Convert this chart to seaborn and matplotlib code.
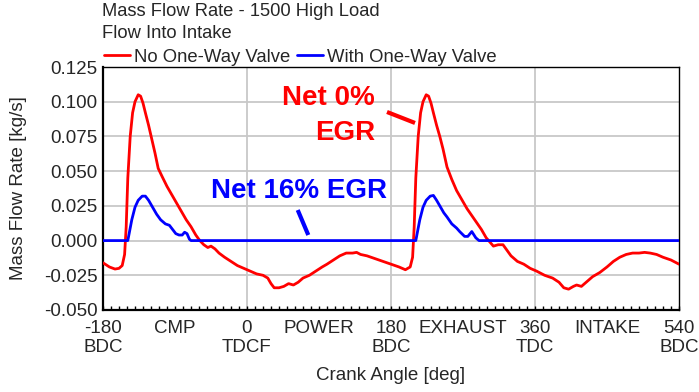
import matplotlib
matplotlib.use("Agg")
import matplotlib.pyplot as plt
from matplotlib.lines import Line2D
import pandas as pd
import seaborn as sns

# crank angle [deg] and mass flow rate [kg/s]
red_angle = [-180, -172, -165, -160, -156, -153, -151, -149, -146, -143, -140, -136, -133,
             -130, -127, -123, -119, -115, -111, -106, -100, -94, -88, -82, -76, -70, -64,
             -59, -54, -49, -45, -40, -35, -28, -20, -12, -4, 4, 12, 20, 26, 30, 34, 40,
             46, 52, 58, 64, 70, 78, 86, 94, 100, 108, 116, 124, 132, 137, 142, 150, 160,
             170, 180, 190, 198, 204, 207, 209, 211, 214, 217, 220, 224, 227, 230, 233,
             237, 241, 245, 250, 256, 262, 268, 275, 281, 287, 293, 299, 302, 308, 314,
             320, 325, 330, 338, 346, 354, 362, 372, 382, 390, 396, 402, 408, 412, 418,
             424, 432, 441, 450, 458, 466, 474, 482, 490, 497, 504, 512, 520, 530, 540]
red_flow = [-0.016, -0.019, -0.0205, -0.020, -0.018, -0.010, 0.010, 0.045, 0.075, 0.092,
            0.100, 0.105, 0.104, 0.099, 0.092, 0.083, 0.073, 0.063, 0.052, 0.046, 0.039,
            0.033, 0.027, 0.021, 0.015, 0.010, 0.004, 0.000, -0.003, -0.005, -0.004,
            -0.006, -0.009, -0.012, -0.015, -0.018, -0.020, -0.022, -0.024, -0.025, -0.027,
            -0.031, -0.034, -0.034, -0.033, -0.031, -0.032, -0.030, -0.027, -0.025, -0.022,
            -0.019, -0.017, -0.014, -0.011, -0.009, -0.009, -0.0085, -0.010, -0.011, -0.013,
            -0.015, -0.017, -0.019, -0.021, -0.019, -0.012, 0.010, 0.045, 0.075, 0.092,
            0.100, 0.105, 0.104, 0.099, 0.092, 0.083, 0.075, 0.066, 0.053, 0.044, 0.036,
            0.030, 0.023, 0.018, 0.013, 0.008, 0.002, 0.000, -0.004, -0.003, -0.003,
            -0.007, -0.011, -0.015, -0.017, -0.020, -0.022, -0.025, -0.027, -0.030, -0.034,
            -0.035, -0.033, -0.032, -0.033, -0.030, -0.026, -0.023, -0.019, -0.015, -0.012,
            -0.010, -0.009, -0.009, -0.0085, -0.009, -0.010, -0.012, -0.014, -0.017]

blue_angle = [-180, -149, -147, -144, -140, -136, -131, -127, -123, -118, -113, -108, -102,
              -97, -93, -89, -85, -81, -78, -75, -72, -70, 211, 213, 216, 220, 224, 229,
              233, 237, 242, 246, 250, 256, 262, 266, 272, 276, 281, 286, 290, 540]
blue_flow = [0.0, 0.0, 0.006, 0.015, 0.024, 0.029, 0.032, 0.032, 0.029, 0.024, 0.019,
             0.015, 0.012, 0.011, 0.008, 0.005, 0.004, 0.004, 0.006, 0.005, 0.001, 0.0,
             0.0, 0.006, 0.015, 0.024, 0.029, 0.032, 0.0325, 0.029, 0.024, 0.020, 0.017,
             0.012, 0.009, 0.0064, 0.003, 0.003, 0.0065, 0.002, 0.0, 0.0]

series_names = ["No One-Way Valve", "With One-Way Valve"]
series_colors = ["#ff0000", "#0000ff"]

tick_pos = [-180, -90, 0, 90, 180, 270, 360, 450, 540]
tick_text = ["-180\nBDC", "CMP", "0\nTDCF", "POWER", "180\nBDC", "EXHAUST", "360\nTDC", "INTAKE", "540\nBDC"]

df = pd.concat([
    pd.DataFrame({"angle": red_angle, "flow": red_flow, "case": series_names[0]}),
    pd.DataFrame({"angle": blue_angle, "flow": blue_flow, "case": series_names[1]}),
])

sns.set_theme(style="white")
plt.rcParams["font.family"] = ["Liberation Sans", "DejaVu Sans"]

fig = plt.figure(figsize=(6.99, 3.92), dpi=100)
ax = fig.add_axes([103 / 699, 1 - 310 / 392, 576 / 699, 243 / 392])

for v in [0.1, 0.075, 0.05, 0.025, 0.0, -0.025]:
    ax.axhline(v, color="#c8c8c8", lw=1.3, zorder=0)
for v in [0, 180, 360]:
    ax.axvline(v, color="#c8c8c8", lw=1.3, zorder=0)

sns.lineplot(data=df, x="angle", y="flow", hue="case", palette=series_colors,
             hue_order=series_names, lw=2, legend=False, ax=ax, sort=False, zorder=3)

ax.set_xlim(-180, 540)
ax.set_ylim(-0.05, 0.125)
ax.set_xticks(tick_pos)
ax.set_xticklabels(tick_text, fontsize=13.5, linespacing=1.2)
ax.set_xticks(range(-180, 541, 10), minor=True)
ax.set_yticks([-0.05, -0.025, 0, 0.025, 0.05, 0.075, 0.1, 0.125])
ax.set_yticklabels([f"{v:.3f}" for v in [-0.05, -0.025, 0, 0.025, 0.05, 0.075, 0.1, 0.125]], fontsize=13.5)
ax.tick_params(axis="x", which="both", direction="in", length=3, width=1, color="black", pad=7, bottom=True)
ax.tick_params(axis="y", length=0, pad=4)
ax.set_xlabel("Crank Angle [deg]", fontsize=13.5, labelpad=8)
ax.set_ylabel("Mass Flow Rate [kg/s]", fontsize=13.5, labelpad=12)

for side in ["top", "right"]:
    ax.spines[side].set_color("black")
    ax.spines[side].set_linewidth(1.0)
for side in ["left", "bottom"]:
    ax.spines[side].set_color("black")
    ax.spines[side].set_linewidth(1.6)

# annotations
ax.text(160, 0.0976, "Net 0%", color="#ff0000", fontsize=20, fontweight="bold", ha="right", va="baseline")
ax.text(160, 0.0724, "EGR", color="#ff0000", fontsize=20, fontweight="bold", ha="right", va="baseline")
ax.plot([175, 210], [0.0926, 0.0847], color="#ff0000", lw=3, solid_capstyle="butt")
ax.text(65, 0.0307, "Net 16% EGR", color="#0000ff", fontsize=20, fontweight="bold", ha="center", va="baseline")
ax.plot([63.4, 76.6], [0.022, 0.004], color="#0000ff", lw=3, solid_capstyle="butt")

handles = [Line2D([], [], color=c, lw=2) for c in series_colors]
fig.legend(handles, series_names, loc="center left", bbox_to_anchor=(104 / 699, 1 - 57 / 392),
           ncol=2, frameon=False, fontsize=13.3, handlelength=1.4, handletextpad=0.2,
           columnspacing=0.4, borderaxespad=0, borderpad=0)

fig.text(102 / 699, 1 - 12 / 392, "Mass Flow Rate - 1500 High Load", fontsize=13.2, va="center", ha="left")
fig.text(102 / 699, 1 - 33 / 392, "Flow Into Intake", fontsize=13.2, va="center", ha="left")

fig.savefig("out.png", dpi=100)
